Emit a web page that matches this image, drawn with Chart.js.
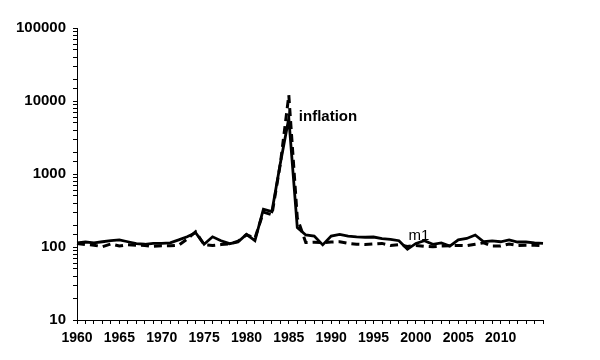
<!DOCTYPE html>
<html>
<head>
<meta charset="utf-8">
<script src="https://cdn.jsdelivr.net/npm/chart.js@4.4.1/dist/chart.umd.min.js"></script>
<style>
    html, body { margin: 0; padding: 0; background: #ffffff; }
    #wrap { width: 600px; height: 360px; }
</style>
</head>
<body>
<div id="wrap"><canvas id="chart" width="600" height="360"></canvas></div>
<script>
// ------------------------------------------------------------
//  Datos
// ------------------------------------------------------------
const years = [
    1960, 1961, 1962, 1963, 1964, 1965, 1966, 1967, 1968, 1969,
    1970, 1971, 1972, 1973, 1974, 1975, 1976, 1977, 1978, 1979,
    1980, 1981, 1982, 1983, 1984, 1985, 1986, 1987, 1988, 1989,
    1990, 1991, 1992, 1993, 1994, 1995, 1996, 1997, 1998, 1999,
    2000, 2001, 2002, 2003, 2004, 2005, 2006, 2007, 2008, 2009,
    2010, 2011, 2012, 2013, 2014, 2015,
]

const m1 = [
    114, 117, 114, 118, 122, 125, 118, 111, 109, 112,
    112, 114, 125, 138, 157, 109, 138, 122, 111, 117,
    149, 122, 330, 305, 1400, 5800, 185, 146, 141, 107,
    141, 149, 141, 138, 136, 137, 130, 127, 122, 93,
    112, 122, 109, 114, 103, 125, 131, 146, 118, 121,
    118, 125, 117, 117, 114, 112,
]

const inflation = [
    112, 108, 106, 101, 110, 103, 107, 106, 105, 102,
    104, 104, 106, 128, 162, 108, 105, 108, 110, 120,
    147, 132, 300, 276, 1380, 12000, 250, 115, 116, 115,
    117, 118, 112, 109, 108, 110, 112, 105, 108, 102,
    105, 102, 101, 103, 104, 105, 104, 109, 114, 103,
    103, 110, 105, 106, 106, 104,
]

const yLabels = [10, 100, 1000, 10000, 100000]

// etiquetas de las series: [serie, índice del año, valor]
const seriesLabels = [
    ['inflation', 25, 6000],
    ['m1', 40, 140],
]

// ------------------------------------------------------------
//  Plugin: texto junto a las series
// ------------------------------------------------------------
const seriesLabelPlugin = {
    id: 'seriesLabels',
    afterDatasetsDraw(chart) {
        const { ctx, scales: { x, y } } = chart
        ctx.save()
        ctx.fillStyle = '#000'
        ctx.textBaseline = 'middle'
        seriesLabels.forEach(([text, idx, val]) => {
            const px = x.getPixelForValue(idx)
            const py = y.getPixelForValue(val)
            if (text === 'inflation') {
                ctx.font = 'bold 15px "Liberation Sans", Arial, sans-serif'
                ctx.textAlign = 'left'
                ctx.fillText(text, px + 10, py)
            } else {
                ctx.font = '15px "Liberation Sans", Arial, sans-serif'
                ctx.textAlign = 'center'
                ctx.fillText(text, px + 3, py)
            }
        })
        ctx.restore()
    }
}

// ------------------------------------------------------------
//  Gráfico
// ------------------------------------------------------------
const xFont = { family: '"Liberation Sans", Arial, sans-serif', size: 14, weight: 'bold' }
const yFont = { family: '"Liberation Sans", Arial, sans-serif', size: 15, weight: 'bold' }

new Chart(document.getElementById('chart'), {
    type: 'line',
    data: {
        labels: years,
        datasets: [
            {
                label: 'm1',
                data: m1,
                borderColor: '#000',
                borderWidth: 2.8,
                pointRadius: 0,
                tension: 0,
                fill: false,
            },
            {
                label: 'inflation',
                data: inflation,
                borderColor: '#000',
                borderWidth: 3,
                borderDash: [8, 5],
                pointRadius: 0,
                tension: 0,
                fill: false,
            },
        ]
    },
    options: {
        responsive: false,
        animation: false,
        events: [],
        layout: { padding: { top: 28, right: 57, left: 0, bottom: 0 } },
        plugins: {
            legend: { display: false },
            tooltip: { enabled: false },
        },
        scales: {
            x: {
                type: 'category',
                offset: false,
                border: { display: true, color: '#000', width: 1 },
                grid: { display: true, drawOnChartArea: false, color: '#000', tickLength: 4 },
                ticks: {
                    autoSkip: false,
                    maxRotation: 0,
                    color: '#000',
                    font: xFont,
                    padding: 6,
                    callback: (v, i) => (i % 5 === 0 && years[i] <= 2010) ? String(years[i]) : '',
                },
                afterFit: s => { s.height = 40 },
            },
            y: {
                type: 'logarithmic',
                min: 10,
                max: 100000,
                border: { display: true, color: '#000', width: 1 },
                grid: { display: true, drawOnChartArea: false, color: '#000', tickLength: 4 },
                ticks: {
                    autoSkip: false,
                    color: '#000',
                    font: yFont,
                    padding: 7,
                    callback: v => yLabels.includes(v) ? String(v) : '',
                },
                afterFit: s => { s.width = 77 },
            },
        }
    },
    plugins: [seriesLabelPlugin],
})
</script>
</body>
</html>
